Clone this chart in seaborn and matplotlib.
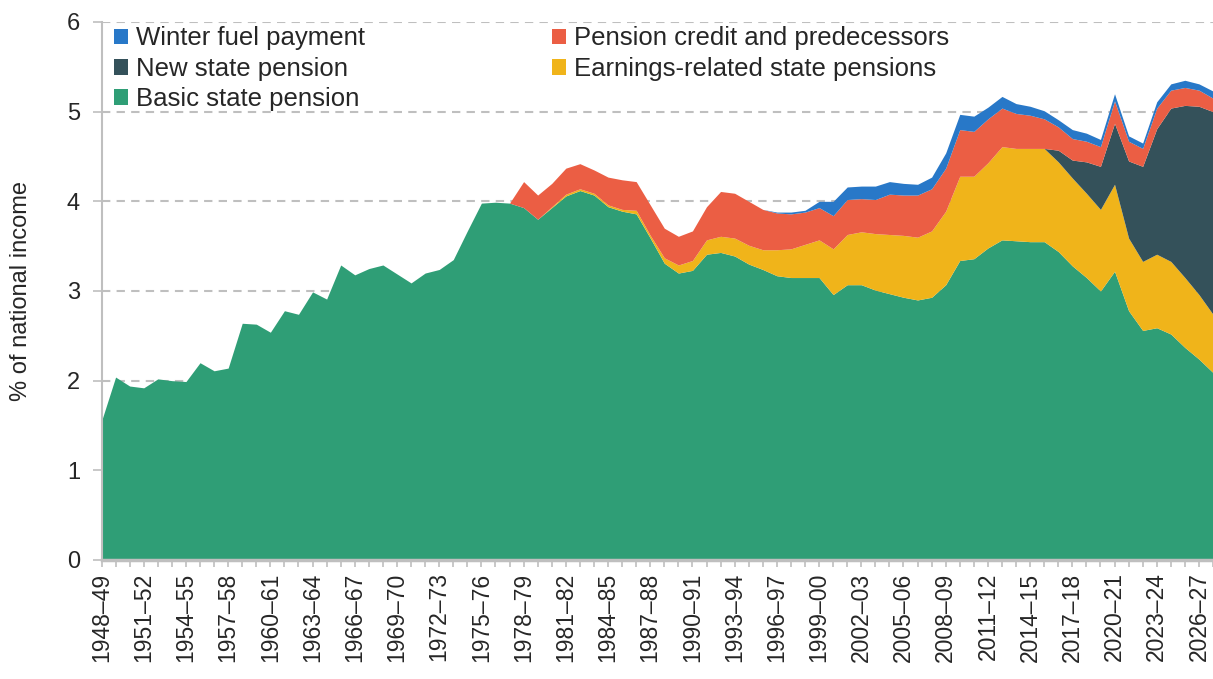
import numpy as np
import pandas as pd
import matplotlib
matplotlib.use("Agg")
import matplotlib.pyplot as plt
from matplotlib.patches import Patch
import seaborn as sns

# ------------------------------
# Data (% of national income), 1948-49 to 2027-28
# ------------------------------
years = [f"{y}\u2013{(y + 1) % 100:02d}" for y in range(1948, 2028)]

basic = [1.55, 2.04, 1.94, 1.92, 2.02, 2.00, 1.99, 2.20, 2.11, 2.14,
         2.64, 2.63, 2.54, 2.78, 2.74, 2.99, 2.91, 3.29, 3.18, 3.25,
         3.29, 3.19, 3.09, 3.20, 3.24, 3.35, 3.67, 3.98, 3.99, 3.98,
         3.93, 3.80, 3.93, 4.06, 4.12, 4.07, 3.94, 3.89, 3.86, 3.59,
         3.31, 3.20, 3.23, 3.41, 3.43, 3.39, 3.30, 3.24, 3.17, 3.15,
         3.15, 3.15, 2.96, 3.07, 3.07, 3.01, 2.97, 2.93, 2.90, 2.93,
         3.07, 3.34, 3.36, 3.48, 3.57, 3.56, 3.55, 3.55, 3.44, 3.28,
         3.15, 3.00, 3.22, 2.78, 2.56, 2.59, 2.52, 2.37, 2.24, 2.09]

earnings = [0.00] * 32 + [
         0.01, 0.02, 0.02, 0.02, 0.02, 0.02, 0.04, 0.03,
         0.06, 0.09, 0.11, 0.16, 0.18, 0.20, 0.21, 0.22, 0.29, 0.32,
         0.37, 0.42, 0.51, 0.56, 0.59, 0.63, 0.66, 0.69, 0.70, 0.74,
         0.82, 0.94, 0.92, 0.95, 1.04, 1.03, 1.04, 1.04, 1.00, 0.98,
         0.94, 0.91, 0.97, 0.81, 0.77, 0.82, 0.81, 0.78, 0.72, 0.65]

new_sp = [0.00] * 67 + [
         0.00, 0.13, 0.20, 0.35, 0.48, 0.68, 0.86, 1.06, 1.40, 1.71,
         1.92, 2.10, 2.26]

credit = [0.00] * 29 + [
         0.00, 0.29, 0.27, 0.26, 0.29, 0.28, 0.26, 0.31, 0.33, 0.32,
         0.34, 0.33, 0.32, 0.33, 0.37, 0.50, 0.50, 0.49, 0.45, 0.41,
         0.39, 0.36, 0.36, 0.37, 0.39, 0.37, 0.38, 0.45, 0.45, 0.47,
         0.47, 0.48, 0.52, 0.50, 0.49, 0.43, 0.39, 0.37, 0.33, 0.26,
         0.24, 0.23, 0.22, 0.25, 0.22, 0.20, 0.23, 0.20, 0.20, 0.18,
         0.15]

winter = [0.00] * 48 + [
         0.01, 0.02, 0.02, 0.07, 0.16, 0.14, 0.14, 0.15, 0.14, 0.13,
         0.12, 0.13, 0.17, 0.17, 0.17, 0.13, 0.13, 0.11, 0.10, 0.09,
         0.08, 0.10, 0.09, 0.08, 0.08, 0.06, 0.06, 0.07, 0.07, 0.08,
         0.07, 0.08]

series = ["Basic state pension", "Earnings-related state pensions",
          "New state pension", "Pension credit and predecessors",
          "Winter fuel payment"]
colors = ["#2F9E76", "#F0B41A", "#34515A", "#EB5E44", "#2878C8"]

df = pd.DataFrame({"year": years, series[0]: basic, series[1]: earnings,
                   series[2]: new_sp, series[3]: credit, series[4]: winter})

# ------------------------------
# Plot
# ------------------------------
sns.set_theme(style="white")
plt.rcParams["font.family"] = ["Liberation Sans", "DejaVu Sans"]

fig = plt.figure(figsize=(12.13, 6.79), dpi=100)
ax = fig.add_axes([0.0837, 0.1753, 0.9163, 0.7923])

x = np.arange(len(df))
ax.stackplot(x, [df[s] for s in series], colors=sns.color_palette(colors),
             linewidth=0)

ax.set_xlim(0, len(df) - 1)
ax.set_ylim(0, 6)
ax.set_yticks(range(0, 7))
ax.yaxis.grid(True, color="#BFBFBF", linestyle=(0, (4, 3)), linewidth=1.5)
ax.set_axisbelow(True)

ax.set_xticks(x[::3])
ax.set_xticklabels(df["year"][::3], rotation=90)
ax.set_xticks(x, minor=True)
ax.tick_params(axis="x", which="both", bottom=True, length=5, width=1.2,
               color="#BFBFBF", labelsize=16.5, pad=4)
ax.tick_params(axis="y", left=True, length=6.5, width=1.2, color="#BFBFBF",
               labelsize=17, pad=9)

sns.despine(ax=ax, top=True, right=True)
for side in ["left", "bottom"]:
    ax.spines[side].set_color("#BFBFBF")
ax.spines["left"].set_linewidth(1.5)
ax.spines["bottom"].set_linewidth(2.5)

ax.set_ylabel("% of national income", fontsize=17)
ax.yaxis.set_label_coords(-0.063, 0.5)

# legend: two columns, column-first fill
order = [4, 2, 0, 3, 1]
handles = [Patch(facecolor=colors[i], edgecolor="none") for i in order]
labels = [series[i] for i in order]
ax.legend(handles, labels, loc="upper left", bbox_to_anchor=(0.004, 1.006),
          ncol=2, frameon=False, fontsize=18.5, handlelength=0.55,
          handleheight=0.55, handletextpad=0.3, labelspacing=0.25,
          columnspacing=7.3, borderaxespad=0.1, borderpad=0.2)

fig.savefig("out.png", dpi=100)
